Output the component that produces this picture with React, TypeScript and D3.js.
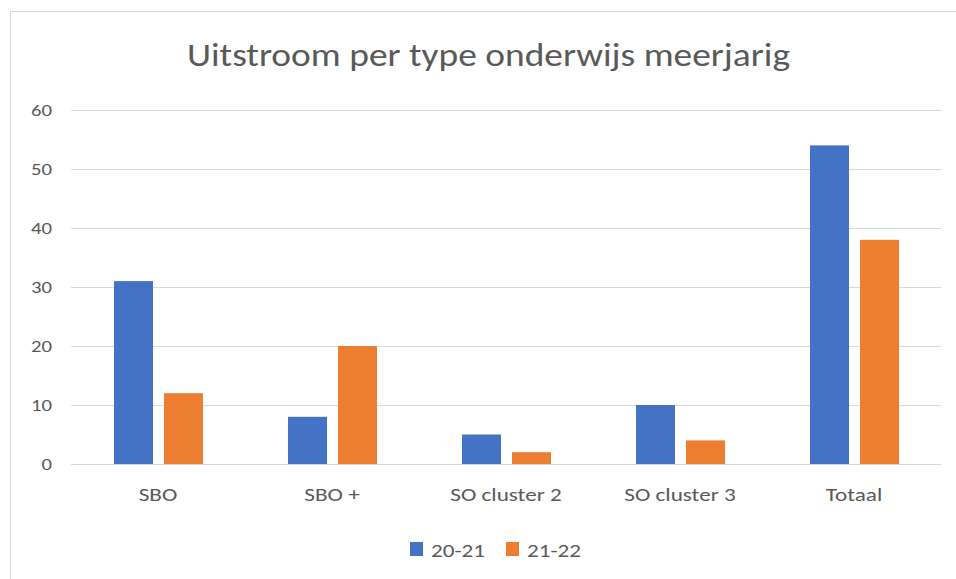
import React, { useRef, useEffect } from 'react';
import * as d3 from 'd3';

const categories = ['SBO', 'SBO +', 'SO cluster 2', 'SO cluster 3', 'Totaal'];
const seriesNames = ['20-21', '21-22'];
const values2021 = [31, 8, 5, 10, 54];
const values2122 = [12, 20, 2, 4, 38];
const yTicks = [0, 10, 20, 30, 40, 50, 60];
const colors = ['#4472C4', '#ED7D31'];

const W = 956;
const H = 579;
const FONT = "Carlito, Lato, 'Noto Sans', sans-serif";
const SX = 1.22; // text in the picture is a bit wider than it is tall

type G = d3.Selection<SVGGElement, unknown, null, undefined> | d3.Selection<SVGSVGElement, unknown, null, undefined>;

const addText = (parent: G, x: number, y: number, txt: string, size: number, anchor = 'start') =>
    (parent as any).append('text')
        .attr('transform', `translate(${x},${y}) scale(${SX},1)`)
        .attr('text-anchor', anchor)
        .attr('font-family', FONT)
        .attr('font-size', size)
        .attr('fill', '#595959')
        .text(txt);

const drawChart = (svg: d3.Selection<SVGSVGElement, unknown, null, undefined>): void => {
    svg.selectAll('*').remove();

    const margin = { top: 110, right: 15, bottom: 115, left: 71 };
    const width = W - margin.left - margin.right;
    const height = H - margin.top - margin.bottom;

    // chart area border
    svg.append('rect')
        .attr('x', 10.5).attr('y', 11.5)
        .attr('width', W + 10).attr('height', H + 10)
        .attr('fill', '#fff')
        .attr('stroke', '#d9d9d9');

    svg.append('text')
        .attr('x', 187).attr('y', 66)
        .attr('textLength', 603)
        .attr('lengthAdjust', 'spacingAndGlyphs')
        .attr('font-family', FONT)
        .attr('font-size', 32)
        .attr('font-weight', 300)
        .attr('fill', '#595959')
        .text('Uitstroom per type onderwijs meerjarig');

    const x = d3.scaleBand().domain(categories).range([0, width]);
    const x1 = d3.scaleBand().domain(seriesNames).range([43, 132]).paddingInner(0.22);
    const y = d3.scaleLinear().domain([0, 60]).range([height, 0]);

    const g = svg.append('g').attr('transform', `translate(${margin.left},${margin.top})`);

    // gridlines
    g.selectAll('.grid')
        .data(yTicks)
        .enter().append('line')
        .attr('x1', 0).attr('x2', width)
        .attr('y1', d => Math.round(y(d)) + 0.5)
        .attr('y2', d => Math.round(y(d)) + 0.5)
        .attr('stroke', '#d9d9d9')
        .attr('stroke-width', 1);

    // y labels
    yTicks.forEach(t => addText(g, -19, y(t) + 6, String(t), 17, 'end'));

    const series = [values2021, values2122];
    series.forEach((vals, si) => {
        g.selectAll(`.bar${si}`)
            .data(vals)
            .enter().append('rect')
            .attr('x', (_, i) => x(categories[i])! + x1(seriesNames[si])!)
            .attr('y', d => y(d))
            .attr('width', x1.bandwidth())
            .attr('height', d => height - y(d))
            .attr('fill', colors[si]);
    });

    // x labels
    categories.forEach(c => addText(g, x(c)! + x.bandwidth() / 2, height + 37, c, 19, 'middle'));

    // legend
    const legend = svg.append('g').attr('transform', 'translate(410,542)');
    const lx = [0, 96];
    seriesNames.forEach((name, i) => {
        legend.append('rect')
            .attr('x', lx[i]).attr('y', 0)
            .attr('width', 13).attr('height', 14)
            .attr('fill', colors[i]);
        addText(legend, lx[i] + 21, 14.5, name, 19);
    });
};

const App: React.FC = () => {
    const ref = useRef<SVGSVGElement>(null);

    useEffect(() => {
        if (ref.current) {
            drawChart(d3.select(ref.current));
        }
    }, []);

    return (
        <svg
            ref={ref}
            width={W}
            height={H}
            style={{ position: 'absolute', left: 0, top: 0, background: '#fff' }}
        />
    );
};

export default App;
